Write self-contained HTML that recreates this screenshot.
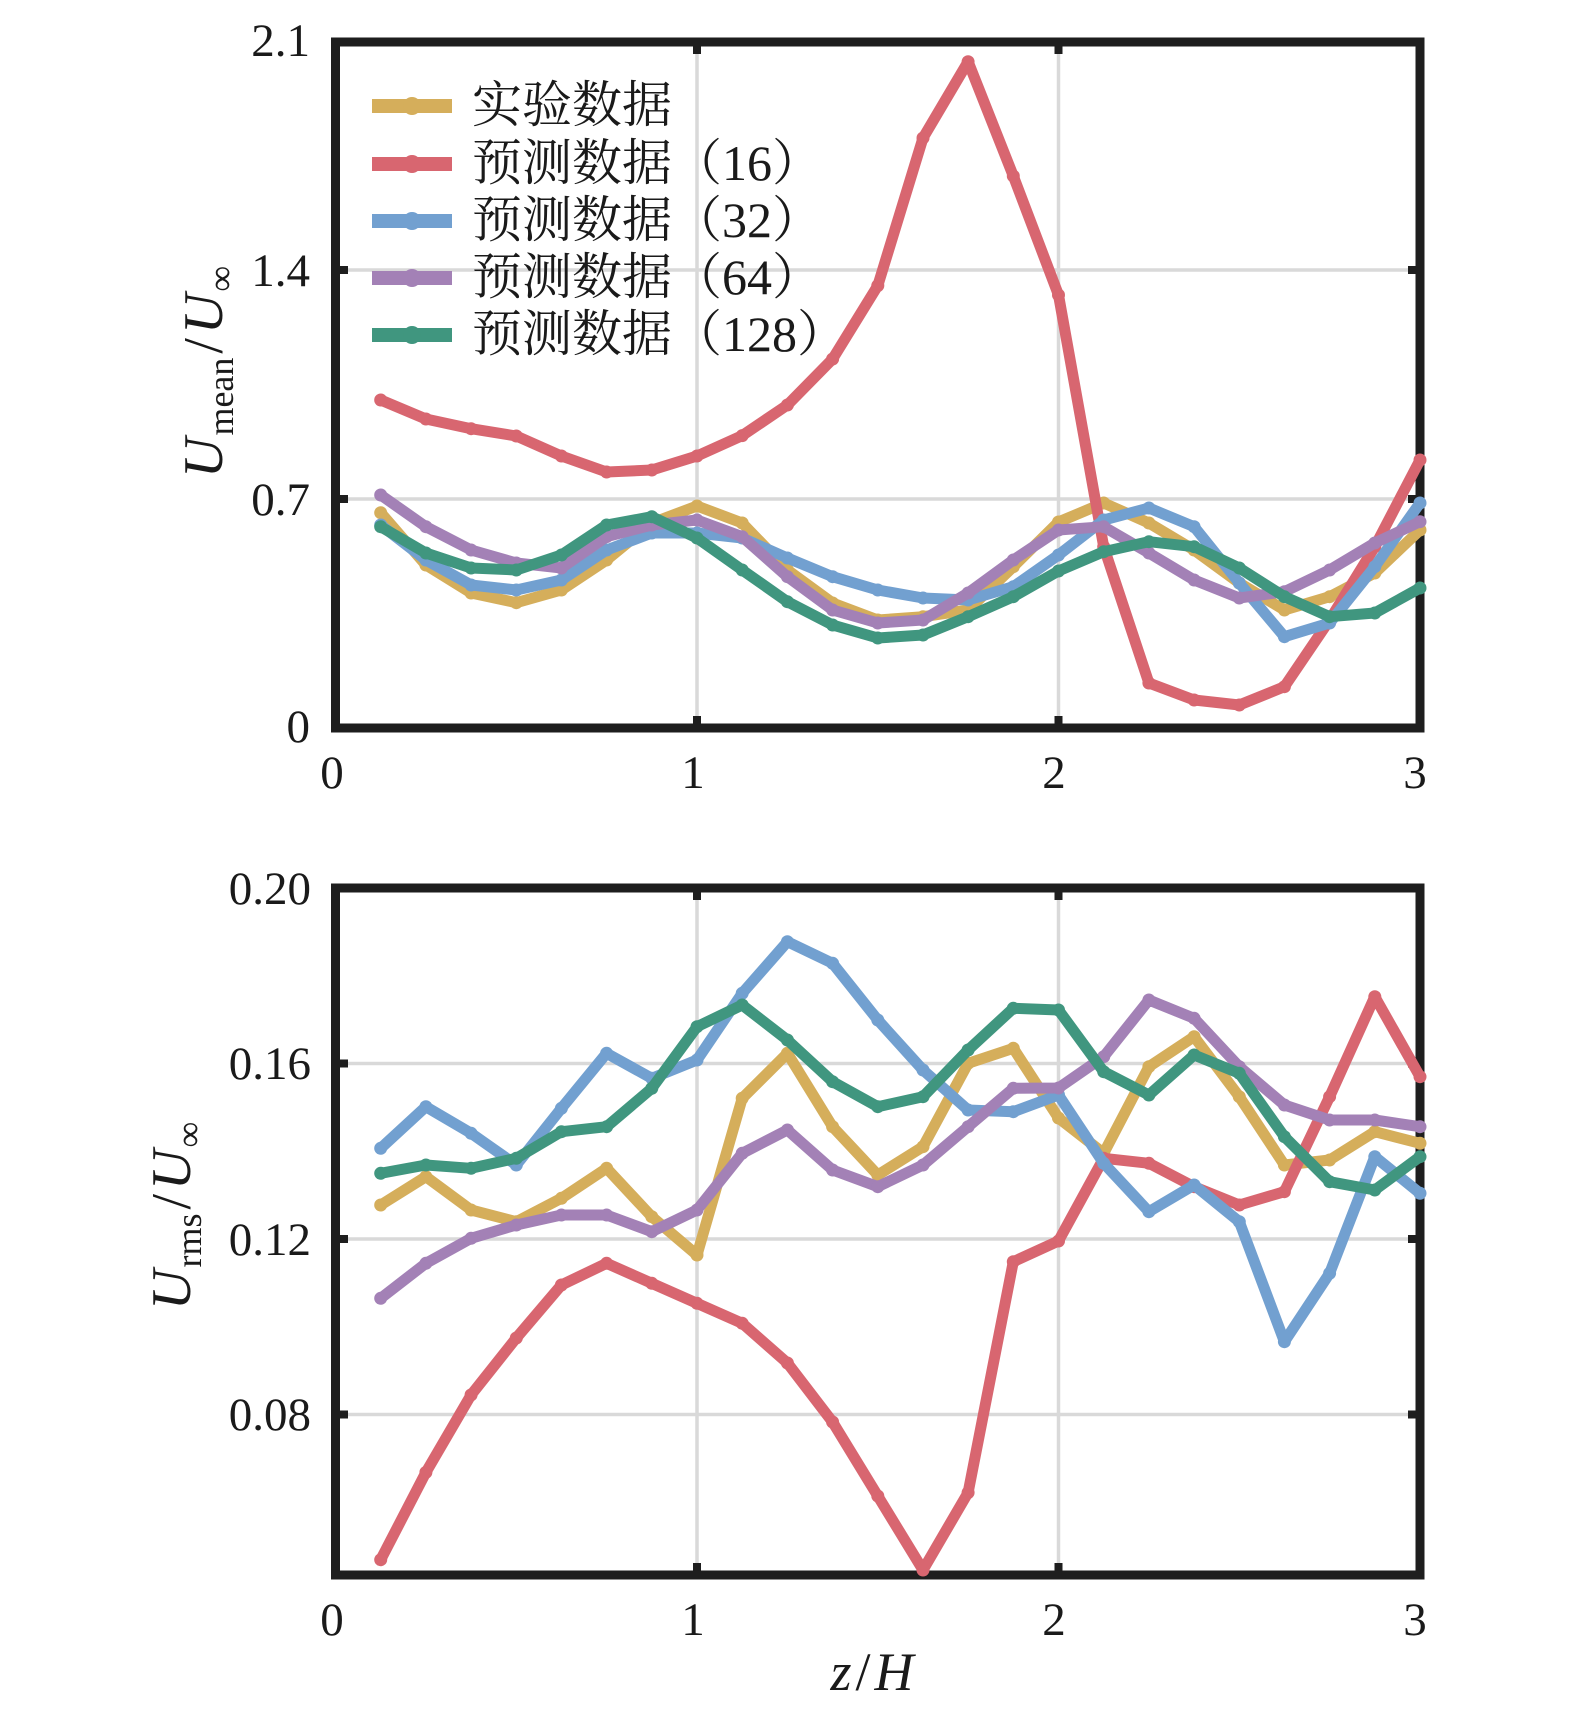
<!DOCTYPE html>
<html>
<head>
<meta charset="utf-8">
<style>
  html,body{margin:0;padding:0;background:#fff;}
  svg{display:block;}
  .tick{font-family:"Liberation Serif","Noto Serif CJK SC",serif;font-size:47px;fill:#1a1a1a;}
  .lab{font-family:"Liberation Serif","Noto Serif CJK SC",serif;fill:#1a1a1a;}
  .leg{font-family:"Liberation Serif","Noto Serif CJK SC",serif;font-size:50px;fill:#1a1a1a;}
</style>
</head>
<body>
<svg width="1575" height="1722" viewBox="0 0 1575 1722" xmlns="http://www.w3.org/2000/svg">
<defs>
  <marker id="mY" markerUnits="userSpaceOnUse" markerWidth="16" markerHeight="16" refX="8" refY="8"><circle cx="8" cy="8" r="6.5" fill="#d5ae5b"/></marker>
  <marker id="mR" markerUnits="userSpaceOnUse" markerWidth="16" markerHeight="16" refX="8" refY="8"><circle cx="8" cy="8" r="6.5" fill="#d86670"/></marker>
  <marker id="mB" markerUnits="userSpaceOnUse" markerWidth="16" markerHeight="16" refX="8" refY="8"><circle cx="8" cy="8" r="6.5" fill="#72a0d0"/></marker>
  <marker id="mP" markerUnits="userSpaceOnUse" markerWidth="16" markerHeight="16" refX="8" refY="8"><circle cx="8" cy="8" r="6.5" fill="#a381b6"/></marker>
  <marker id="mG" markerUnits="userSpaceOnUse" markerWidth="16" markerHeight="16" refX="8" refY="8"><circle cx="8" cy="8" r="6.5" fill="#40967f"/></marker>
</defs>

<!-- ================= TOP PLOT ================= -->
<g stroke="#d9d9d9" stroke-width="3.5">
  <line x1="697" y1="42" x2="697" y2="728"/>
  <line x1="1058.5" y1="42" x2="1058.5" y2="728"/>
  <line x1="335.5" y1="499" x2="1420" y2="499"/>
  <line x1="335.5" y1="270" x2="1420" y2="270"/>
</g>
<g stroke="#1e1e1e" stroke-width="8">
  <line x1="335.5" y1="499" x2="348" y2="499"/>
  <line x1="335.5" y1="270" x2="348" y2="270"/>
  <line x1="1420" y1="499" x2="1408" y2="499"/>
  <line x1="1420" y1="270" x2="1408" y2="270"/>
  <line x1="697" y1="42" x2="697" y2="54"/>
  <line x1="1058.5" y1="42" x2="1058.5" y2="54"/>
  <line x1="697" y1="728" x2="697" y2="716"/>
  <line x1="1058.5" y1="728" x2="1058.5" y2="716"/>
</g>
<rect x="335.5" y="42" width="1084.5" height="686" fill="none" stroke="#1e1e1e" stroke-width="9"/>

<g fill="none" stroke-width="11" stroke-linejoin="round" stroke-linecap="round">
  <polyline stroke="#d5ae5b" marker-start="url(#mY)" marker-mid="url(#mY)" marker-end="url(#mY)" points="380.7,512.7 425.9,565 471.1,593 516.3,602.7 561.4,590 606.6,560 651.8,523 697,506 742.2,523 787.4,570 832.6,603 877.8,620 923,616.7 968.1,610 1013.3,566.7 1058.5,522 1103.7,503 1148.9,523 1194.1,550 1239.3,583 1284.4,610 1329.6,596.7 1374.8,573 1420,530"/>
  <polyline stroke="#d86670" marker-start="url(#mR)" marker-mid="url(#mR)" marker-end="url(#mR)" points="380.7,400 425.9,419 471.1,428.7 516.3,436 561.4,456 606.6,472 651.8,470 697,456 742.2,435.6 787.4,405 832.6,359 877.8,285.6 923,138 968.1,61.7 1013.3,176 1058.5,295 1103.7,546.7 1148.9,683 1194.1,700 1239.3,705 1284.4,686.7 1329.6,620 1374.8,546.7 1420,460"/>
  <polyline stroke="#72a0d0" marker-start="url(#mB)" marker-mid="url(#mB)" marker-end="url(#mB)" points="380.7,525 425.9,560 471.1,585 516.3,590 561.4,580 606.6,550 651.8,533 697,533 742.2,538 787.4,558 832.6,576.7 877.8,590 923,598 968.1,600 1013.3,586.7 1058.5,555 1103.7,520 1148.9,508 1194.1,526.7 1239.3,583 1284.4,636.7 1329.6,623 1374.8,566.7 1420,503"/>
  <polyline stroke="#a381b6" marker-start="url(#mP)" marker-mid="url(#mP)" marker-end="url(#mP)" points="380.7,495 425.9,526.7 471.1,550 516.3,563 561.4,568 606.6,536.7 651.8,525 697,520 742.2,536.7 787.4,576.7 832.6,610 877.8,623 923,620 968.1,593 1013.3,560 1058.5,530 1103.7,526.7 1148.9,553 1194.1,580 1239.3,598 1284.4,591.7 1329.6,570 1374.8,543 1420,521.7"/>
  <polyline stroke="#40967f" marker-start="url(#mG)" marker-mid="url(#mG)" marker-end="url(#mG)" points="380.7,526.7 425.9,553 471.1,568 516.3,570 561.4,555 606.6,525 651.8,516.7 697,538 742.2,570 787.4,601.7 832.6,625 877.8,638 923,635 968.1,616.7 1013.3,596.7 1058.5,571 1103.7,551.7 1148.9,541.7 1194.1,546.7 1239.3,568 1284.4,596.7 1329.6,616.7 1374.8,613 1420,588"/>
</g>

<!-- legend -->
<g stroke-width="14">
  <line x1="372" y1="106" x2="452" y2="106" stroke="#d5ae5b"/>
  <line x1="372" y1="164" x2="452" y2="164" stroke="#d86670"/>
  <line x1="372" y1="221" x2="452" y2="221" stroke="#72a0d0"/>
  <line x1="372" y1="278" x2="452" y2="278" stroke="#a381b6"/>
  <line x1="372" y1="335" x2="452" y2="335" stroke="#40967f"/>
</g>
<circle cx="412" cy="106" r="9" fill="#d5ae5b"/>
<circle cx="412" cy="164" r="9" fill="#d86670"/>
<circle cx="412" cy="221" r="9" fill="#72a0d0"/>
<circle cx="412" cy="278" r="9" fill="#a381b6"/>
<circle cx="412" cy="335" r="9" fill="#40967f"/>
<text class="leg" x="472" y="122">实验数据</text>
<text class="leg" x="472" y="180">预测数据（16）</text>
<text class="leg" x="472" y="237">预测数据（32）</text>
<text class="leg" x="472" y="294">预测数据（64）</text>
<text class="leg" x="472" y="351">预测数据（128）</text>

<!-- top tick labels -->
<text class="tick" x="310" y="56" text-anchor="end">2.1</text>
<text class="tick" x="310" y="286" text-anchor="end">1.4</text>
<text class="tick" x="310" y="515" text-anchor="end">0.7</text>
<text class="tick" x="310" y="742" text-anchor="end">0</text>
<text class="tick" x="332" y="788" text-anchor="middle">0</text>
<text class="tick" x="693" y="788" text-anchor="middle">1</text>
<text class="tick" x="1054" y="788" text-anchor="middle">2</text>
<text class="tick" x="1415" y="788" text-anchor="middle">3</text>

<!-- top y label -->
<g transform="translate(222,478) rotate(-90)">
  <text class="lab" x="0" y="0" font-size="56"><tspan font-style="italic">U</tspan><tspan font-size="36" dy="11" dx="2">mean</tspan><tspan dy="-11" dx="4">/</tspan><tspan font-style="italic" dx="4">U</tspan><tspan font-size="36" dy="11" dx="2">∞</tspan></text>
</g>

<!-- ================= BOTTOM PLOT ================= -->
<g stroke="#d9d9d9" stroke-width="3.5">
  <line x1="697" y1="888" x2="697" y2="1575"/>
  <line x1="1058.5" y1="888" x2="1058.5" y2="1575"/>
  <line x1="335.5" y1="1063.5" x2="1420" y2="1063.5"/>
  <line x1="335.5" y1="1239" x2="1420" y2="1239"/>
  <line x1="335.5" y1="1414.5" x2="1420" y2="1414.5"/>
</g>
<g stroke="#1e1e1e" stroke-width="8">
  <line x1="335.5" y1="1063.5" x2="348" y2="1063.5"/>
  <line x1="335.5" y1="1239" x2="348" y2="1239"/>
  <line x1="335.5" y1="1414.5" x2="348" y2="1414.5"/>
  <line x1="1420" y1="1063.5" x2="1408" y2="1063.5"/>
  <line x1="1420" y1="1239" x2="1408" y2="1239"/>
  <line x1="1420" y1="1414.5" x2="1408" y2="1414.5"/>
  <line x1="697" y1="888" x2="697" y2="900"/>
  <line x1="1058.5" y1="888" x2="1058.5" y2="900"/>
  <line x1="697" y1="1575" x2="697" y2="1563"/>
  <line x1="1058.5" y1="1575" x2="1058.5" y2="1563"/>
</g>
<rect x="335.5" y="888" width="1084.5" height="687" fill="none" stroke="#1e1e1e" stroke-width="9"/>

<g fill="none" stroke-width="11" stroke-linejoin="round" stroke-linecap="round">
  <polyline stroke="#d5ae5b" marker-start="url(#mY)" marker-mid="url(#mY)" marker-end="url(#mY)" points="380.7,1205 425.9,1176.7 471.1,1210 516.3,1221.7 561.4,1198.3 606.6,1168.3 651.8,1216.7 697,1255 742.2,1098.3 787.4,1053.3 832.6,1126.7 877.8,1175 923,1146.7 968.1,1063.3 1013.3,1048.3 1058.5,1118 1103.7,1153.3 1148.9,1066.7 1194.1,1036.7 1239.3,1096.7 1284.4,1165 1329.6,1160 1374.8,1131.7 1420,1143.3"/>
  <polyline stroke="#d86670" marker-start="url(#mR)" marker-mid="url(#mR)" marker-end="url(#mR)" points="380.7,1559.7 425.9,1472.4 471.1,1394.9 516.3,1338 561.4,1285 606.6,1263.3 651.8,1283.3 697,1303.3 742.2,1323.3 787.4,1363 832.6,1422 877.8,1496 923,1570 968.1,1492.6 1013.3,1261.7 1058.5,1241 1103.7,1158.3 1148.9,1163.3 1194.1,1186.7 1239.3,1205 1284.4,1191.7 1329.6,1096.7 1374.8,996.7 1420,1076.7"/>
  <polyline stroke="#72a0d0" marker-start="url(#mB)" marker-mid="url(#mB)" marker-end="url(#mB)" points="380.7,1148.3 425.9,1106.7 471.1,1133.3 516.3,1165 561.4,1108.3 606.6,1053.3 651.8,1078.3 697,1060 742.2,993.3 787.4,941.7 832.6,963.3 877.8,1020 923,1070 968.1,1110 1013.3,1111.7 1058.5,1095 1103.7,1163.3 1148.9,1211.7 1194.1,1185 1239.3,1221.7 1284.4,1341.7 1329.6,1273.3 1374.8,1156.7 1420,1193.3"/>
  <polyline stroke="#a381b6" marker-start="url(#mP)" marker-mid="url(#mP)" marker-end="url(#mP)" points="380.7,1298.3 425.9,1263.3 471.1,1238.3 516.3,1225 561.4,1215 606.6,1215 651.8,1231.7 697,1210 742.2,1153.3 787.4,1130 832.6,1170 877.8,1186.7 923,1165 968.1,1126.7 1013.3,1088.3 1058.5,1088 1103.7,1056.7 1148.9,1000 1194.1,1018.3 1239.3,1066.7 1284.4,1105 1329.6,1120 1374.8,1120 1420,1126.7"/>
  <polyline stroke="#40967f" marker-start="url(#mG)" marker-mid="url(#mG)" marker-end="url(#mG)" points="380.7,1173.3 425.9,1165 471.1,1168.3 516.3,1158.3 561.4,1131.7 606.6,1126.7 651.8,1088.3 697,1026.7 742.2,1005 787.4,1040 832.6,1081.7 877.8,1106.7 923,1096.7 968.1,1050 1013.3,1008.3 1058.5,1010 1103.7,1071.7 1148.9,1095 1194.1,1055 1239.3,1073.3 1284.4,1136.7 1329.6,1181.7 1374.8,1190 1420,1156.7"/>
</g>

<!-- bottom tick labels -->
<text class="tick" x="311" y="904" text-anchor="end">0.20</text>
<text class="tick" x="311" y="1079" text-anchor="end">0.16</text>
<text class="tick" x="311" y="1255" text-anchor="end">0.12</text>
<text class="tick" x="311" y="1430" text-anchor="end">0.08</text>
<text class="tick" x="332" y="1635" text-anchor="middle">0</text>
<text class="tick" x="693" y="1635" text-anchor="middle">1</text>
<text class="tick" x="1054" y="1635" text-anchor="middle">2</text>
<text class="tick" x="1415" y="1635" text-anchor="middle">3</text>

<!-- bottom y label -->
<g transform="translate(190,1310) rotate(-90)">
  <text class="lab" x="0" y="0" font-size="56"><tspan font-style="italic">U</tspan><tspan font-size="36" dy="11" dx="2">rms</tspan><tspan dy="-11" dx="4">/</tspan><tspan font-style="italic" dx="4">U</tspan><tspan font-size="36" dy="11" dx="2">∞</tspan></text>
</g>

<!-- x label -->
<text class="lab" x="872" y="1690" font-size="54" text-anchor="middle"><tspan font-style="italic">z</tspan><tspan dx="4">/</tspan><tspan font-style="italic" dx="4">H</tspan></text>

</svg>
</body>
</html>
